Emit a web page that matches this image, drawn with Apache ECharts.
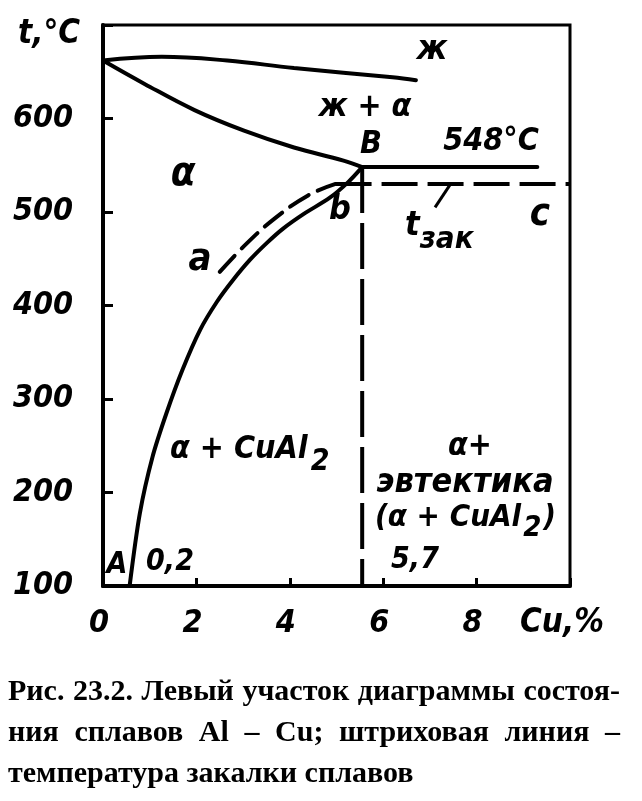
<!DOCTYPE html>
<html><head><meta charset="utf-8">
<script src="https://cdn.jsdelivr.net/npm/echarts@6/dist/echarts.min.js"></script>
<style>html,body{margin:0;padding:0;background:#fff}#c{width:642px;height:801px}</style>
</head><body><div id="c"></div>
<script>
// ---- data ----
const liquidusX = [0, 1.26, 2.66, 4.09, 6.2, 6.7];
const liquidusT = [662, 666, 662, 654, 644, 641];
const solidusX = [0, 0.89, 1.96, 3.02, 4.09, 5.15, 5.55];
const solidusT = [662, 637, 609, 587, 569, 555, 548];
const solvusX = [0.57, 0.79, 1.06, 1.36, 1.70, 2.08, 2.44, 2.78, 3.15, 3.51, 3.85, 4.3, 4.85, 5.25, 5.55];
const solvusT = [100, 178, 238, 285, 331, 374, 404, 427, 449, 467, 482, 498, 515, 532, 548];
const quenchAbX = [2.5, 3.09, 3.70, 4.40, 4.98];
const quenchAbT = [436, 467, 494, 518, 530];
const quenchBcX = [4.98, 10];
const quenchBcT = [530, 530];
const eutecticX = [5.55, 9.3];
const eutecticT = [548, 548];
const limitX = [5.55, 5.55];
const limitT = [548, 100];
const leaderX = [7.43, 7.11];
const leaderT = [529, 505];
const xTickLabels = ['0', '2', '4', '6', '8'];
const yTickLabels = ['100', '200', '300', '400', '500', '600'];
const captionLines = [
  'Рис. 23.2. Левый участок диаграммы состоя-',
  'ния сплавов Al – Cu; штриховая линия –',
  'температура закалки сплавов'
];

// ---- helpers ----
const FAM = '"DejaVu Sans Condensed","DejaVu Sans",sans-serif';
const SERIF = '"Liberation Serif","DejaVu Serif",serif';
const mctx = document.createElement('canvas').getContext('2d');
function measure(text, font) { mctx.font = font; return mctx.measureText(text).width; }
function pairs(xs, ys) { return xs.map((x, i) => [x, ys[i]]); }
function lbl(text, x, y, size, align) {
  return { type: 'text', x: x, y: y, silent: true,
    style: { text: text, fontFamily: FAM, fontStyle: 'italic', fontWeight: 'bold', fontSize: size,
      fill: '#000', align: align || 'center', verticalAlign: 'middle' } };
}
function run(x, y, pieces) {
  const out = [];
  let cx = x;
  pieces.forEach(p => {
    out.push(lbl(p.t, cx, y + (p.dy || 0), p.size, 'left'));
    cx += measure(p.t, 'italic bold ' + p.size + 'px ' + FAM) + (p.gap || 0);
  });
  return out;
}
function justify(text, x0, x1, y, size, doJustify) {
  const words = text.split(' ');
  const f = 'bold ' + size + 'px ' + SERIF;
  const widths = words.map(w => measure(w, f));
  const total = widths.reduce((a, b) => a + b, 0);
  const gap = doJustify ? (x1 - x0 - total) / (words.length - 1) : measure(' ', f);
  const out = [];
  let cx = x0;
  words.forEach((w, i) => {
    out.push({ type: 'text', x: cx, y: y, silent: true,
      style: { text: w, fontFamily: SERIF, fontWeight: 'bold', fontSize: size, fill: '#000',
        align: 'left', verticalAlign: 'middle' } });
    cx += widths[i] + gap;
  });
  return out;
}

const lineBase = (name, xs, ys, opts) => Object.assign({
  name: name, type: 'line', data: pairs(xs, ys), symbol: 'none', silent: true,
  lineStyle: { color: '#000', width: 4, cap: 'round' }
}, opts || {});

let graphics = [];
graphics.push(lbl('t,°C', 49, 34, 33));
graphics.push(lbl('ж', 432, 50, 34));
graphics.push(lbl('ж + α', 365, 108, 32));
graphics.push(lbl('B', 371, 145, 32));
graphics.push(lbl('548°C', 491, 142, 32));
graphics.push(lbl('α', 183, 175, 40));
graphics.push(lbl('a', 200, 260, 38));
graphics.push(lbl('b', 340, 210, 34));
graphics.push(lbl('c', 540, 215, 38));
graphics = graphics.concat(run(405, 226, [{ t: 't', size: 34 }, { t: 'зак', size: 31, dy: 14 }]));
graphics = graphics.concat(run(170, 450, [{ t: 'α + CuAl', size: 32, gap: 3 }, { t: '2', size: 30, dy: 12 }]));
graphics.push(lbl('α+', 470, 447, 32));
graphics.push(lbl('эвтектика', 465, 483, 34));
graphics = graphics.concat(run(375, 518, [{ t: '(α + CuAl', size: 31, gap: 2 }, { t: '2', size: 29, dy: 10, gap: 2 }, { t: ')', size: 31 }]));
graphics.push(lbl('5,7', 415, 560, 30));
graphics.push(lbl('0,2', 170, 562, 30));
graphics.push(lbl('A', 117, 565, 30));
graphics.push(lbl('Cu,%', 562, 623, 33));
graphics = graphics.concat(justify(captionLines[0], 8, 620, 692, 30, true));
graphics = graphics.concat(justify(captionLines[1], 8, 620, 733, 30, true));
graphics = graphics.concat(justify(captionLines[2], 8, 620, 774, 30, false));

const axisFont = { fontFamily: FAM, fontStyle: 'italic', fontWeight: 'bold', fontSize: 32, color: '#000' };

const chart = echarts.init(document.getElementById('c'), null, { renderer: 'canvas' });
chart.setOption({
  animation: false,
  backgroundColor: '#fff',
  grid: { left: 103, right: 72, top: 25, bottom: 215, show: true, borderColor: '#000', borderWidth: 3 },
  xAxis: {
    type: 'value', min: 0, max: 10, interval: 2,
    axisLine: { show: true, lineStyle: { color: '#000', width: 4 } },
    axisTick: { show: true, inside: true, length: 8, lineStyle: { color: '#000', width: 3 } },
    splitLine: { show: false },
    axisLabel: Object.assign({ margin: 22, padding: [0, 8, 0, 0],
      formatter: v => xTickLabels.indexOf(String(v)) >= 0 ? String(v) : '' }, axisFont)
  },
  yAxis: {
    type: 'value', min: 100, max: 700, interval: 100,
    axisLine: { show: true, lineStyle: { color: '#000', width: 4 } },
    axisTick: { show: true, inside: true, length: 10, lineStyle: { color: '#000', width: 3 } },
    splitLine: { show: false },
    axisLabel: Object.assign({ margin: 30,
      formatter: v => yTickLabels.indexOf(String(v)) >= 0 ? String(v) : '' }, axisFont)
  },
  series: [
    lineBase('liquidus', liquidusX, liquidusT, { smooth: 0.4 }),
    lineBase('solidus', solidusX, solidusT, { smooth: 0.4 }),
    lineBase('solvus', solvusX, solvusT, { smooth: 0.3 }),
    lineBase('quench a-b', quenchAbX, quenchAbT, { smooth: 0.4, lineStyle: { color: '#000', width: 4, type: [22, 10], cap: 'round' } }),
    lineBase('quench b-c', quenchBcX, quenchBcT, { lineStyle: { color: '#000', width: 4, type: [36, 10] } }),
    lineBase('eutectic', eutecticX, eutecticT),
    lineBase('limit', limitX, limitT, { lineStyle: { color: '#000', width: 4, type: [46, 10] } }),
    lineBase('leader', leaderX, leaderT, { lineStyle: { color: '#000', width: 3 } })
  ],
  graphic: graphics
});
</script>
</body></html>
